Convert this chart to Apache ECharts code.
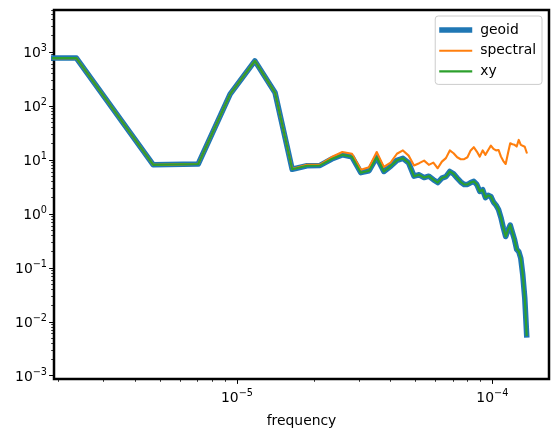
<!DOCTYPE html>
<html>
<head>
<meta charset="utf-8">
<script src="https://cdn.jsdelivr.net/npm/echarts@6/dist/echarts.min.js"></script>
<style>
  html, body { margin: 0; padding: 0; background: #fff; }
  #main { width: 559px; height: 437px; }
</style>
</head>
<body>
<div id="main"></div>
<script>
// FFT bins; the first one is the DC bin (frequency 0, clipped on a log axis)
const freq = [1e-9,
  2.35e-6, 4.70e-6, 7.05e-6, 9.40e-6, 1.175e-5, 1.41e-5, 1.645e-5, 1.88e-5, 2.115e-5, 2.35e-5,
  2.585e-5, 2.82e-5, 3.055e-5, 3.29e-5, 3.525e-5, 3.76e-5, 3.995e-5, 4.23e-5, 4.465e-5, 4.70e-5,
  4.935e-5, 5.17e-5, 5.405e-5, 5.64e-5, 5.875e-5, 6.11e-5, 6.345e-5, 6.58e-5, 6.815e-5, 7.05e-5,
  7.285e-5, 7.52e-5, 7.755e-5, 7.99e-5, 8.225e-5, 8.46e-5, 8.695e-5, 8.93e-5, 9.165e-5, 9.40e-5,
  9.635e-5, 9.87e-5, 1.0105e-4, 1.034e-4, 1.0575e-4, 1.081e-4, 1.1045e-4, 1.128e-4, 1.1515e-4, 1.175e-4,
  1.1985e-4, 1.222e-4, 1.2455e-4, 1.269e-4, 1.2925e-4, 1.316e-4, 1.3395e-4, 1.363e-4];

const geoid = [770,
  770, 8.1, 8.4, 165, 685, 175, 6.7, 7.8, 7.9, 10.4,
  12.4, 11.4, 5.8, 6.3, 11.2, 6.1, 7.6, 9.8, 10.7, 8.8,
  5.0, 5.3, 4.7, 5.0, 4.3, 3.8, 4.6, 4.9, 6.1, 5.5,
  4.6, 3.9, 3.5, 3.5, 3.8, 4.0, 3.5, 2.6, 2.8, 2.0,
  2.2, 2.1, 1.65, 1.45, 1.2, 0.85, 0.55, 0.38, 0.5, 0.62,
  0.45, 0.33, 0.22, 0.2, 0.15, 0.074, 0.028, 0.0057];

const spectral = [770,
  770, 8.1, 8.4, 165, 685, 175, 6.8, 8.1, 8.2, 11.3,
  14.0, 13.0, 6.6, 7.3, 14.0, 7.4, 8.9, 13.0, 15.0, 12.0,
  7.9, 8.7, 9.7, 8.1, 8.9, 7.0, 9.3, 10.8, 15.0, 13.3,
  11.2, 10.3, 10.3, 11.2, 15.0, 17.2, 14.3, 11.5, 15.0, 12.4,
  15.3, 18.4, 16.0, 15.0, 15.3, 11.5, 9.5, 8.4, 13.3, 20.4,
  19.5, 19.0, 17.7, 23.5, 19.0, 18.5, 17.5, 13.7];

const xy = geoid.slice();

const xMajor = [1e-5, 1e-4];
const xMinor = [2e-6, 3e-6, 4e-6, 5e-6, 6e-6, 7e-6, 8e-6, 9e-6,
  2e-5, 3e-5, 4e-5, 5e-5, 6e-5, 7e-5, 8e-5, 9e-5];
const yMajor = [1e-3, 1e-2, 1e-1, 1, 10, 100, 1000];
const yMinor = [];
[1e-3, 1e-2, 1e-1, 1, 10, 100, 1000].forEach(d => {
  for (let m = 2; m <= 9; m++) yMinor.push(d * m);
});

const xMin = 1.92e-6, xMax = 1.667e-4;
const yMin = 8.7e-4, yMax = 6000;

const FONT = 'DejaVu Sans';

function pair(ys) {
  return ys.map((v, i) => [freq[i], v]);
}

function powLabel(v) {
  const e = Math.round(Math.log10(v));
  return '{b|10}{s|' + String(e).replace('-', '\u2212') + '}';
}

const labelRich = {
  b: { fontFamily: FONT, fontSize: 13.9, color: '#000', verticalAlign: 'bottom', lineHeight: 17 },
  s: { fontFamily: FONT, fontSize: 9.7, color: '#000', verticalAlign: 'top', lineHeight: 17 }
};

const chart = echarts.init(document.getElementById('main'), null, { renderer: 'canvas' });

chart.setOption({
  animation: false,
  backgroundColor: '#fff',
  grid: {
    left: 54, right: 10, top: 10, bottom: 58,
    show: true, borderColor: '#000', borderWidth: 2.5, backgroundColor: 'transparent'
  },
  legend: {
    orient: 'vertical',
    right: 17, top: 16,
    padding: [7, 6, 6, 4],
    itemGap: 6.7,
    itemWidth: 33,
    itemHeight: 14,
    backgroundColor: 'rgba(255,255,255,0.8)',
    borderColor: '#cccccc',
    borderWidth: 1,
    borderRadius: 3,
    textStyle: { fontFamily: FONT, fontSize: 13.9, color: '#000', padding: [0, 0, 0, 3] },
    data: [
      { name: 'geoid', icon: 'path://M0,0 L33,0 L33,5.5 L0,5.5 Z', itemStyle: { color: '#1f77b4' } },
      { name: 'spectral', icon: 'path://M0,0 L33,0 L33,2.1 L0,2.1 Z', itemStyle: { color: '#ff7f0e' } },
      { name: 'xy', icon: 'path://M0,0 L33,0 L33,2.1 L0,2.1 Z', itemStyle: { color: '#2ca02c' } }
    ]
  },
  xAxis: [
    {
      type: 'log', logBase: 10, min: xMin, max: xMax,
      position: 'bottom',
      name: 'frequency', nameLocation: 'middle', nameGap: 35,
      nameTextStyle: { fontFamily: FONT, fontSize: 13.9, color: '#000' },
      axisLine: { show: false },
      splitLine: { show: false },
      axisTick: { show: true, inside: false, length: 4.9, lineStyle: { color: '#000', width: 1 }, customValues: xMajor },
      axisLabel: { margin: 9, formatter: powLabel, rich: labelRich, customValues: xMajor }
    },
    {
      type: 'log', logBase: 10, min: xMin, max: xMax,
      position: 'bottom',
      axisLine: { show: false },
      splitLine: { show: false },
      axisTick: { show: true, inside: false, length: 2.8, lineStyle: { color: '#000', width: 0.8 }, customValues: xMinor },
      axisLabel: { show: false }
    }
  ],
  yAxis: [
    {
      type: 'log', logBase: 10, min: yMin, max: yMax,
      position: 'left',
      axisLine: { show: false },
      splitLine: { show: false },
      axisTick: { show: true, inside: false, length: 4.9, lineStyle: { color: '#000', width: 1 }, customValues: yMajor },
      axisLabel: { margin: 7, formatter: powLabel, rich: labelRich, customValues: yMajor }
    },
    {
      type: 'log', logBase: 10, min: yMin, max: yMax,
      position: 'left',
      axisLine: { show: false },
      splitLine: { show: false },
      axisTick: { show: true, inside: false, length: 2.8, lineStyle: { color: '#000', width: 0.8 }, customValues: yMinor },
      axisLabel: { show: false }
    }
  ],
  series: [
    {
      name: 'geoid', type: 'line', data: pair(geoid),
      showSymbol: false, symbol: 'none', clip: true,
      lineStyle: { color: '#1f77b4', width: 5.5, join: 'round', cap: 'square' },
      itemStyle: { color: '#1f77b4' }
    },
    {
      name: 'spectral', type: 'line', data: pair(spectral),
      showSymbol: false, symbol: 'none', clip: true,
      lineStyle: { color: '#ff7f0e', width: 2.1, join: 'round', cap: 'square' },
      itemStyle: { color: '#ff7f0e' }
    },
    {
      name: 'xy', type: 'line', data: pair(xy),
      showSymbol: false, symbol: 'none', clip: true,
      lineStyle: { color: '#2ca02c', width: 2.1, join: 'round', cap: 'square' },
      itemStyle: { color: '#2ca02c' }
    }
  ]
});

window.onresize = function() {
  chart.resize();
};
</script>
</body>
</html>
